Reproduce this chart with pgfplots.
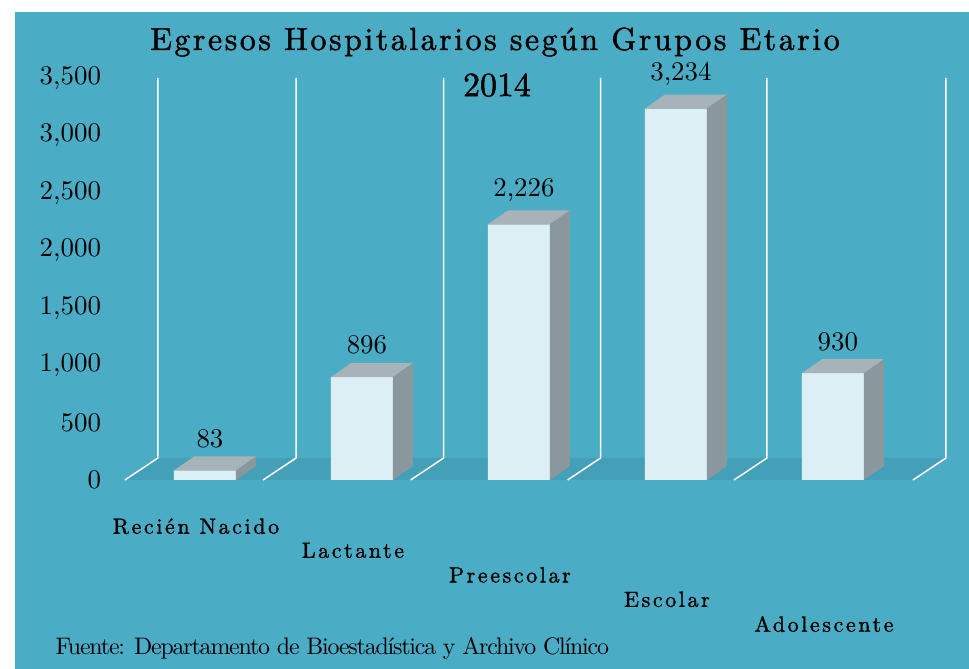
\documentclass[border=0pt]{standalone}
\usepackage{fontspec}
\setmainfont{lmroman10-regular.otf}[BoldFont=lmroman10-bold.otf, ItalicFont=lmroman10-italic.otf, BoldItalicFont=lmroman10-bolditalic.otf]
\usepackage{pgfplots}
\usepackage{pgfplotstable}
\pgfplotsset{compat=1.18}
\definecolor{bg}{HTML}{4BACC6}
\definecolor{floor}{HTML}{44A0B8}
\definecolor{front}{HTML}{DCEFF5}
\definecolor{topgray}{HTML}{A7B3B8}
\definecolor{sidegray}{HTML}{8A979C}
\pgfplotstableread{
x y
0 83
1 896
2 2226
3 3234
4 930
}\datatable
\pgfdeclareplotmark{bar3d}{%
  \pgfmathsetmacro{\Hbar}{\rawy/3500*402}%
  \pgfsetfillcolor{topgray}%
  \pgfpathmoveto{\pgfpoint{-31bp}{0bp}}%
  \pgfpathlineto{\pgfpoint{31bp}{0bp}}%
  \pgfpathlineto{\pgfpoint{51bp}{14bp}}%
  \pgfpathlineto{\pgfpoint{-11bp}{14bp}}%
  \pgfpathclose
  \pgfusepath{fill}%
  \pgfsetfillcolor{sidegray}%
  \pgfpathmoveto{\pgfpoint{31bp}{0bp}}%
  \pgfpathlineto{\pgfpoint{51bp}{14bp}}%
  \pgfpathlineto{\pgfpoint{51bp}{(14-\Hbar)*1bp}}%
  \pgfpathlineto{\pgfpoint{31bp}{-\Hbar*1bp}}%
  \pgfpathclose
  \pgfusepath{fill}%
}
\begin{document}
\begin{tikzpicture}[x=1bp,y=1bp]
\useasboundingbox (-126.5,-189) rectangle (842.5,480);
\fill[bg] (-111.5,-189) rectangle (842.5,468);
\begin{axis}[
  at={(0,0)}, anchor=south west,
  scale only axis, width=832bp, height=402bp,
  xmin=-0.5, xmax=4.8, ymin=0, ymax=3500,
  clip=false,
  axis line style={draw=none},
  major tick length=0pt, minor tick length=0pt,
  ytick={0,500,...,3500},
  scaled y ticks=false,
  /pgf/number format/assume math mode=true,
  yticklabel style={font=\fontsize{27}{32}\selectfont, xshift=-22bp},
  xtick={0,...,4},
  xticklabels={Recién Nacido, Lactante, Preescolar, Escolar, Adolescente},
  xticklabel style={font=\fontsize{22}{26}\selectfont\addfontfeatures{LetterSpace=12,FakeBold=1.5},
    anchor=north, xshift=-9bp, yshift={-35-24.5*\ticknum}},
]
\fill[floor] ([xshift=-33bp]axis cs:-0.30,0) -- ([xshift=-33bp]axis cs:4.72,0)
  -- ([yshift=22bp]axis cs:4.72,0) -- ([yshift=22bp]axis cs:-0.30,0) -- cycle;
\pgfplotsinvokeforeach{-0.30,0.58,1.52,2.52,3.58,4.72}{
  \draw[white, line width=1.5bp] (axis cs:#1,3500) -- ([yshift=22bp]axis cs:#1,0) -- ++(-33bp,-22bp);
}
\addplot[ybar, bar width=62bp, fill=front, draw=none,
  nodes near coords,
  every node near coord/.append style={font=\fontsize{27}{32}\selectfont, xshift=5bp, yshift=19bp, text=black}]
  table[x=x,y=y] {\datatable};
\addplot[only marks, mark=bar3d, visualization depends on={rawy \as \rawy}]
  table[x=x,y=y] {\datatable};
\end{axis}
\node[font=\fontsize{32}{36}\selectfont\addfontfeatures{LetterSpace=8,FakeBold=1.5}] at (368.5,438) {Egresos Hospitalarios según Grupos Etario};
\node[font=\fontsize{34}{38}\selectfont\addfontfeatures{FakeBold=1.5}] at (370.5,395) {2014};
\node[anchor=west, font=\fontsize{24}{30}\selectfont\addfontfeatures{LetterSpace=-5}] at (-74.5,-168) {Fuente: Departamento de Bioestadística y Archivo Clínico};
\end{tikzpicture}
\end{document}
